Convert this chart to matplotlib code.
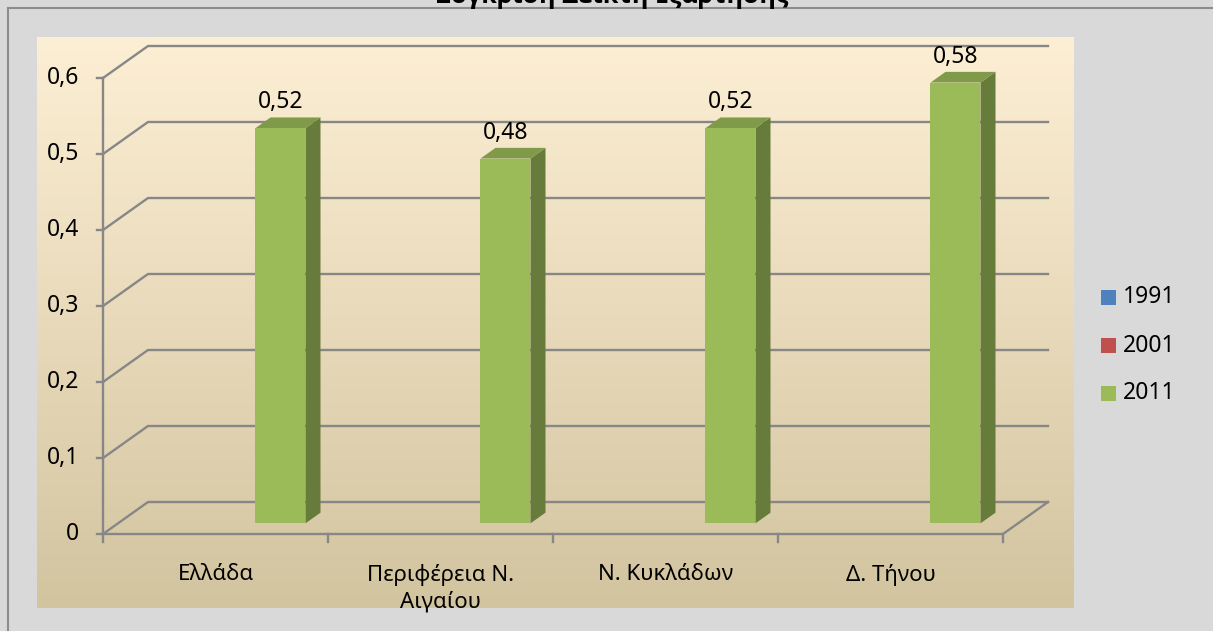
import matplotlib
matplotlib.use('Agg')
import numpy as np
import matplotlib.pyplot as plt
from matplotlib.patches import Polygon, Rectangle
from matplotlib.lines import Line2D

plt.rcParams['font.family'] = ['Noto Sans', 'DejaVu Sans']

categories = ['Ελλάδα', 'Περιφέρεια Ν.\nΑιγαίου', 'Ν. Κυκλάδων', 'Δ. Τήνου']
series = ['1991', '2001', '2011']
values_1991 = [np.nan, np.nan, np.nan, np.nan]
values_2001 = [np.nan, np.nan, np.nan, np.nan]
values_2011 = [0.52, 0.48, 0.52, 0.58]
yticks = [0, 0.1, 0.2, 0.3, 0.4, 0.5, 0.6]
ytick_labels = ['0', '0,1', '0,2', '0,3', '0,4', '0,5', '0,6']
title = 'Σύγκριση Δείκτη Εξάρτησης'

face_colors = ['#4f81bd', '#c0504d', '#9bbb59']
side_colors = ['#3a5f8c', '#8e3b39', '#677c3a']
top_colors = ['#4570a5', '#a84744', '#7f9a48']
grid_col = '#878787'

W, H = 1213, 631
fig = plt.figure(figsize=(W / 100, H / 100), dpi=100, facecolor='#d9d9d9')

# outer chart border (top and left visible)
fig.add_artist(Line2D([8 / W, 1], [1 - 8 / H, 1 - 8 / H], color='#8c8c8c', lw=1.5))
fig.add_artist(Line2D([8 / W, 8 / W], [0, 1 - 8 / H], color='#8c8c8c', lw=1.5))

# plot area gradient
bg = fig.add_axes([37 / W, 1 - 608 / H, (1074 - 37) / W, (608 - 37) / H])
top = np.array([253, 239, 212]) / 255
bot = np.array([211, 196, 160]) / 255
grad = np.linspace(0, 1, 256)[:, None]
img = top[None, None, :] * (1 - grad[..., None]) + bot[None, None, :] * grad[..., None]
bg.imshow(img, aspect='auto', extent=[0, 1, 0, 1])
bg.axis('off')

# main axes: x in category units, y in value units (front plane)
ax = fig.add_axes([103 / W, 1 - 534 / H, 900 / W, 456 / H])
ax.set_xlim(0, 4)
ax.set_ylim(0, 0.6)
ax.axis('off')
ax.patch.set_alpha(0)

DX = 0.2       # depth offset in category units
DY = 0.0421    # depth offset in value units
n = len(categories)

# walls / gridlines
for v, lab in zip(yticks, ytick_labels):
    ax.plot([0, DX, n + DX], [v, v + DY, v + DY], color=grid_col, lw=1.7, clip_on=False, zorder=1)
    ax.plot([-0.027, 0], [v, v], color=grid_col, lw=1.7, clip_on=False, zorder=1)
    ax.text(-0.105, v, lab, ha='right', va='center', fontsize=16.5, clip_on=False)
ax.plot([0, 0], [0, 0.6], color=grid_col, lw=1.7, clip_on=False, zorder=1)
ax.plot([0, n, n + DX], [0, 0, DY], color=grid_col, lw=1.7, clip_on=False, zorder=1)
for i in range(n + 1):
    ax.plot([i, i], [0, -0.011], color=grid_col, lw=1.7, clip_on=False, zorder=1)

# category labels
for i, c in enumerate(categories):
    ax.text(i + 0.5, -0.04, c, ha='center', va='top', fontsize=16, linespacing=1.25, clip_on=False)

# 3D bars
gap = 1.5
bw = 1 / (len(series) + gap)
d0, d1 = 1 / 3, 2 / 3
for s, vals in enumerate([values_1991, values_2001, values_2011]):
    for i, v in enumerate(vals):
        if np.isnan(v):
            continue
        xl = i + gap / 2 * bw + s * bw + d0 * DX
        xr = xl + bw
        yb = d0 * DY
        ddx, ddy = (d1 - d0) * DX, (d1 - d0) * DY
        ax.add_patch(Polygon([(xr, yb), (xr + ddx, yb + ddy), (xr + ddx, yb + ddy + v), (xr, yb + v)],
                             closed=True, fc=side_colors[s], ec='none', zorder=3, clip_on=False))
        ax.add_patch(Polygon([(xl, yb + v), (xr, yb + v), (xr + ddx, yb + v + ddy), (xl + ddx, yb + v + ddy)],
                             closed=True, fc=top_colors[s], ec='none', zorder=3, clip_on=False))
        ax.add_patch(Rectangle((xl, yb), bw, v, fc=face_colors[s], ec='none', zorder=4, clip_on=False))
        ax.annotate(('%.2f' % v).replace('.', ','), (xl + bw / 2, yb + v), xytext=(0, 10),
                    textcoords='offset points', ha='center', va='bottom', fontsize=16.5, clip_on=False)

# legend
leg_y = [297, 346, 393]
for s, name in enumerate(series):
    fig.add_artist(Rectangle((1101 / W, 1 - (leg_y[s] + 7.5) / H), 15 / W, 15 / H,
                             fc=face_colors[s], ec='none'))
    fig.text(1123 / W, 1 - leg_y[s] / H, name, ha='left', va='center', fontsize=16.5)

# title, mostly cut off by the top edge as in the original
fig.text(612 / W, 1 - 3 / H, title, ha='center', va='baseline', fontsize=18,
         fontweight='bold', family=['Open Sans', 'DejaVu Sans'])

plt.savefig('out.png', dpi=100, facecolor=fig.get_facecolor())
plt.close()
